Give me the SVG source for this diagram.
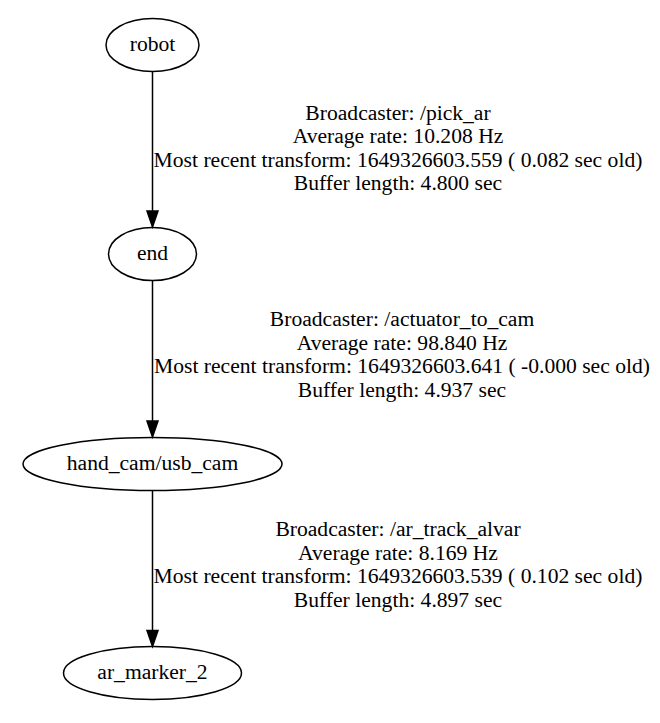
<svg xmlns="http://www.w3.org/2000/svg" width="660" height="723" viewBox="0 0 660 723">
<style>
text{font-family:"Liberation Serif","Times New Roman",serif;font-size:21.6px;fill:#000;text-anchor:middle}
.n{fill:none;stroke:#000;stroke-width:1.5}
.e{stroke:#000;stroke-width:1.5;fill:none}
.a{fill:#000;stroke:#000;stroke-width:1.5}
</style>
<rect width="660" height="723" fill="#fff"/>
<g id="edges">
<g id="e1"><line class="e" x1="152.5" y1="71.5" x2="152.5" y2="211"/><polygon class="a" points="147,211 158,211 152.5,227"/>
<text x="398" y="119.5">Broadcaster: /pick_ar</text><text x="398" y="143">Average rate: 10.208 Hz</text><text x="398" y="166.5">Most recent transform: 1649326603.559 ( 0.082 sec old)</text><text x="398" y="190">Buffer length: 4.800 sec</text></g>
<g id="e2"><line class="e" x1="152.5" y1="280.5" x2="152.5" y2="421"/><polygon class="a" points="147,421 158,421 152.5,437"/>
<text x="402" y="326">Broadcaster: /actuator_to_cam</text><text x="402" y="349.5">Average rate: 98.840 Hz</text><text x="402" y="373">Most recent transform: 1649326603.641 ( -0.000 sec old)</text><text x="402" y="396.5">Buffer length: 4.937 sec</text></g>
<g id="e3"><line class="e" x1="152.5" y1="490.5" x2="152.5" y2="630.5"/><polygon class="a" points="147,630.5 158,630.5 152.5,646.5"/>
<text x="398" y="536">Broadcaster: /ar_track_alvar</text><text x="398" y="559.5">Average rate: 8.169 Hz</text><text x="398" y="583">Most recent transform: 1649326603.539 ( 0.102 sec old)</text><text x="398" y="606.5">Buffer length: 4.897 sec</text></g>
</g>
<g id="robot"><ellipse class="n" cx="152.5" cy="45" rx="46.5" ry="26.5"/><text x="152.5" y="51">robot</text></g>
<g id="end"><ellipse class="n" cx="152.5" cy="254" rx="44" ry="26.5"/><text x="152.5" y="260">end</text></g>
<g id="hand_cam"><ellipse class="n" cx="152.5" cy="464" rx="129.5" ry="26.5"/><text x="152.5" y="470">hand_cam/usb_cam</text></g>
<g id="ar_marker_2"><ellipse class="n" cx="152.5" cy="673" rx="89" ry="26.5"/><text x="152.5" y="679">ar_marker_2</text></g>
</svg>
